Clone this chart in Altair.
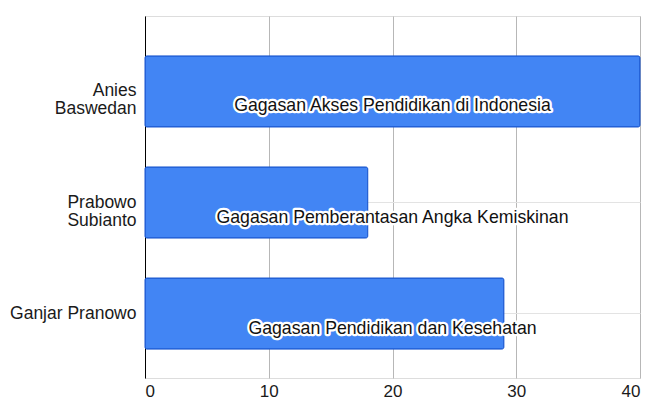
import altair as alt
import pandas as pd

candidates = ["Anies|Baswedan", "Prabowo|Subianto", "Ganjar Pranowo"]
values = [40, 18, 29]
ideas = [
    "Gagasan Akses Pendidikan di Indonesia",
    "Gagasan Pemberantasan Angka Kemiskinan",
    "Gagasan Pendidikan dan Kesehatan",
]
x_ticks = [0, 10, 20, 30, 40]
x_max = 40

df = pd.DataFrame({"candidate": candidates, "value": values, "idea": ideas})

FONT = "Liberation Sans"

y_enc = alt.Y(
    "candidate:N",
    sort=candidates,
    scale=alt.Scale(paddingInner=0.36, paddingOuter=0.31, align=0.58),
    axis=alt.Axis(
        title=None,
        labelExpr="split(datum.label, '|')",
        labelFontSize=17.5,
        labelLineHeight=18,
        labelFont=FONT,
        labelColor="#1a1a1a",
        labelPadding=9,
        ticks=False,
        domain=True,
        domainColor="#000000",
        domainWidth=1,
        grid=True,
        gridColor="#e3e3e3",
        gridWidth=1,
        bandPosition=0.5,
    ),
)

x_enc = alt.X(
    "value:Q",
    scale=alt.Scale(domain=[0, x_max], nice=False),
    axis=alt.Axis(
        title=None,
        values=x_ticks,
        labelFontSize=17,
        labelFont=FONT,
        labelColor="#1a1a1a",
        labelPadding=5,
        ticks=False,
        domain=False,
        grid=True,
        gridColor="#b7b7b7",
        gridWidth=1,
    ),
)

bars = alt.Chart(df).mark_bar(
    color="#4285f4", stroke="#1a57cf", strokeWidth=1, cornerRadius=2
).encode(x=x_enc, y=y_enc)

center = alt.datum(x_max / 2)

halo = alt.Chart(df).mark_text(
    font=FONT, fontSize=17.7, dy=15, align="center", baseline="middle",
    fill="#ffffff", stroke="#ffffff", strokeWidth=4.5, strokeJoin="round",
).encode(x=center, y=alt.Y("candidate:N", sort=candidates), text="idea:N")

text = alt.Chart(df).mark_text(
    font=FONT, fontSize=17.7, dy=15, align="center", baseline="middle",
    color="#111111",
).encode(x=center, y=alt.Y("candidate:N", sort=candidates), text="idea:N")

chart = (
    alt.layer(bars, halo, text)
    .properties(
        width=495,
        height=362,
        autosize=alt.AutoSizeParams(type="none"),
        padding={"left": 137, "top": 8, "right": 10, "bottom": 22},
    )
    .configure_view(stroke=None)
    .configure(background="#ffffff")
)

chart.save("out.html", embed_options={"renderer": "svg", "actions": False})
